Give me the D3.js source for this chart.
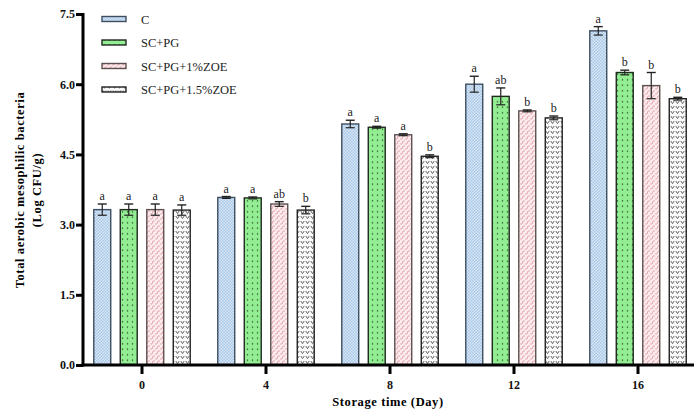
<!DOCTYPE html>
<html>
<head>
<meta charset="utf-8">
<script src="https://cdn.jsdelivr.net/npm/d3@7/dist/d3.min.js"></script>
<style>
body { margin: 0; background: #fff; }
svg { display: block; font-family: "Liberation Serif", "DejaVu Serif", serif; }
</style>
</head>
<body>
<svg id="chart" width="696" height="412"></svg>
<script>
var days = ["0", "4", "8", "12", "16"];
var groups = ["C", "SC+PG", "SC+PG+1%ZOE", "SC+PG+1.5%ZOE"];
var means = {
    "C":             [3.32, 3.58, 5.15, 6.00, 7.14],
    "SC+PG":         [3.32, 3.57, 5.08, 5.74, 6.25],
    "SC+PG+1%ZOE":   [3.32, 3.44, 4.92, 5.43, 5.97],
    "SC+PG+1.5%ZOE": [3.31, 3.31, 4.46, 5.28, 5.69]
};
var errs = {
    "C":             [0.12, 0.02, 0.08, 0.17, 0.09],
    "SC+PG":         [0.12, 0.02, 0.02, 0.18, 0.05],
    "SC+PG+1%ZOE":   [0.12, 0.05, 0.02, 0.02, 0.28],
    "SC+PG+1.5%ZOE": [0.11, 0.08, 0.03, 0.04, 0.03]
};
var letters = {
    "C":             ["a", "a", "a", "a", "a"],
    "SC+PG":         ["a", "a", "a", "ab", "b"],
    "SC+PG+1%ZOE":   ["a", "ab", "a", "b", "b"],
    "SC+PG+1.5%ZOE": ["a", "b", "b", "b", "b"]
};
var yTicks = [0, 1.5, 3.0, 4.5, 6.0, 7.5];

var svg = d3.select("#chart");
var defs = svg.append("defs");

// fill patterns, one per treatment
var p = defs.append("pattern").attr("id", "pat0").attr("patternUnits", "userSpaceOnUse")
    .attr("width", 3).attr("height", 3);
p.append("rect").attr("width", 3).attr("height", 3).attr("fill", "#dae8f6");
p.append("rect").attr("width", 1.5).attr("height", 1.5).attr("fill", "#a9c7e6");
p.append("rect").attr("x", 1.5).attr("y", 1.5).attr("width", 1.5).attr("height", 1.5).attr("fill", "#a9c7e6");

p = defs.append("pattern").attr("id", "pat1").attr("patternUnits", "userSpaceOnUse")
    .attr("width", 5).attr("height", 5.5);
p.append("rect").attr("width", 5).attr("height", 5.5).attr("fill", "#93ee93");
p.append("circle").attr("cx", 2.5).attr("cy", 2.7).attr("r", 0.75).attr("fill", "#1a3a1a");

p = defs.append("pattern").attr("id", "pat2").attr("patternUnits", "userSpaceOnUse")
    .attr("width", 5).attr("height", 5);
p.append("rect").attr("width", 5).attr("height", 5).attr("fill", "#fcecee");
p.append("path").attr("d", "M0,4 L2,4 L3,1 L5,1").attr("fill", "none")
    .attr("stroke", "#e3a4ac").attr("stroke-width", 0.9);

p = defs.append("pattern").attr("id", "pat3").attr("patternUnits", "userSpaceOnUse")
    .attr("width", 5).attr("height", 5);
p.append("rect").attr("width", 5).attr("height", 5).attr("fill", "#fafafa");
p.append("path").attr("d", "M0.8,1 L2.5,3.6 L4.2,1").attr("fill", "none")
    .attr("stroke", "#555").attr("stroke-width", 0.9);

var fills = ["url(#pat0)", "url(#pat1)", "url(#pat2)", "url(#pat3)"];
var strokes = ["#3d4e62", "#1f2a1f", "#5e5050", "#222"];

var x = d3.scaleBand().domain(days).range([80, 700]);
var xs = d3.scaleBand().domain(groups).range([0, x.bandwidth()])
    .paddingInner(0.36).paddingOuter(0.52);
var y = d3.scaleLinear().domain([0, 7.5]).range([365, 14]);

// bars
groups.forEach(function(g, gi) {
    var sel = svg.append("g").attr("class", "series");
    days.forEach(function(d, di) {
        var v = means[g][di], e = errs[g][di];
        var bx = x(d) + xs(g), w = xs.bandwidth(), cx = bx + w / 2;
        sel.append("rect")
            .attr("x", bx).attr("y", y(v))
            .attr("width", w).attr("height", y(0) - y(v))
            .attr("fill", fills[gi])
            .attr("stroke", strokes[gi]).attr("stroke-width", 1.4);
        sel.append("line")
            .attr("x1", cx).attr("x2", cx)
            .attr("y1", y(v - e)).attr("y2", y(v + e))
            .attr("stroke", "#222").attr("stroke-width", 1.2);
        sel.append("line")
            .attr("x1", cx - 4.5).attr("x2", cx + 4.5)
            .attr("y1", y(v + e)).attr("y2", y(v + e))
            .attr("stroke", "#222").attr("stroke-width", 1.4);
        sel.append("line")
            .attr("x1", cx - 4.5).attr("x2", cx + 4.5)
            .attr("y1", y(v - e)).attr("y2", y(v - e))
            .attr("stroke", "#222").attr("stroke-width", 1.2);
        sel.append("text")
            .attr("x", cx).attr("y", y(v + e) - 4)
            .attr("text-anchor", "middle")
            .attr("font-size", 12).attr("fill", "#222")
            .text(letters[g][di]);
    });
});

// axes
var yAxis = svg.append("g").attr("transform", "translate(83,0)")
    .call(d3.axisLeft(y).tickValues(yTicks).tickFormat(d3.format(".1f")).tickSize(7).tickSizeOuter(0));
yAxis.select(".domain").remove();
yAxis.append("line").attr("x1", 0).attr("x2", 0).attr("y1", 13).attr("y2", 366.5)
    .attr("stroke", "#000").attr("stroke-width", 3);
yAxis.selectAll(".tick line").attr("stroke", "#000").attr("stroke-width", 3);
yAxis.selectAll(".tick text").attr("font-size", 12).attr("font-weight", "bold")
    .attr("font-family", "Liberation Serif").attr("fill", "#111").attr("x", -8);

var xAxis = svg.append("g").attr("transform", "translate(0,365)")
    .call(d3.axisBottom(x).tickSize(9).tickSizeOuter(0));
xAxis.select(".domain").remove();
xAxis.append("line").attr("x1", 81.5).attr("x2", 694).attr("y1", 0).attr("y2", 0)
    .attr("stroke", "#000").attr("stroke-width", 3);
xAxis.selectAll(".tick line").attr("stroke", "#000").attr("stroke-width", 3);
xAxis.selectAll(".tick text").attr("font-size", 12).attr("font-weight", "bold")
    .attr("font-family", "Liberation Serif").attr("fill", "#111").attr("y", 15);

// axis titles
svg.append("text").attr("x", 388).attr("y", 406).attr("text-anchor", "middle")
    .attr("font-size", 12.5).attr("font-weight", "bold").attr("letter-spacing", 0.6)
    .text("Storage time (Day)");
svg.append("text").attr("transform", "translate(24,190) rotate(-90)")
    .attr("text-anchor", "middle").attr("font-size", 12.5).attr("font-weight", "bold")
    .attr("letter-spacing", 0.6)
    .text("Total aerobic mesophilic bacteria");
svg.append("text").attr("transform", "translate(41,190) rotate(-90)")
    .attr("text-anchor", "middle").attr("font-size", 12.5).attr("font-weight", "bold")
    .attr("letter-spacing", 0.6)
    .text("(Log CFU/g)");

// legend
var legend = svg.append("g").attr("transform", "translate(102,19)");
groups.forEach(function(g, i) {
    var row = legend.append("g").attr("transform", "translate(0," + (i * 23.5) + ")");
    row.append("rect").attr("x", 0).attr("y", -2.5).attr("width", 24).attr("height", 5)
        .attr("fill", fills[i]).attr("stroke", strokes[i]).attr("stroke-width", 1.4);
    row.append("text").attr("x", 39).attr("y", 4.5).attr("font-size", 12.5).attr("fill", "#222")
        .text(g);
});
</script>
</body>
</html>
